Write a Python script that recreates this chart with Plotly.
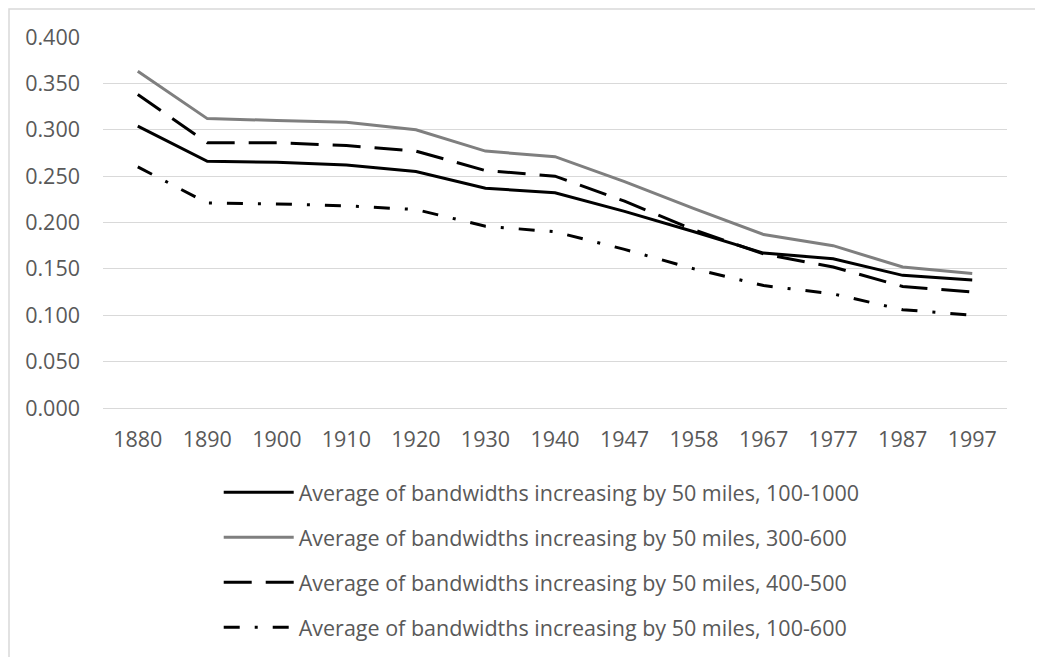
"""Average bandwidth estimates by census year."""

import plotly.graph_objects as go

YEARS = ["1880", "1890", "1900", "1910", "1920", "1930", "1940",
         "1947", "1958", "1967", "1977", "1987", "1997"]

BW_100_1000 = [0.304, 0.266, 0.265, 0.262, 0.255, 0.237, 0.232,
               0.212, 0.190, 0.167, 0.161, 0.143, 0.138]
BW_300_600 = [0.363, 0.312, 0.310, 0.308, 0.300, 0.277, 0.271,
              0.244, 0.215, 0.187, 0.175, 0.152, 0.145]
BW_400_500 = [0.338, 0.286, 0.286, 0.283, 0.277, 0.256, 0.250,
              0.223, 0.192, 0.166, 0.152, 0.131, 0.125]
BW_100_600 = [0.260, 0.221, 0.220, 0.218, 0.214, 0.196, 0.190,
              0.171, 0.150, 0.132, 0.123, 0.106, 0.100]

SERIES = [
    ("Average of bandwidths increasing by 50 miles, 100-1000", BW_100_1000, "#000000", "solid"),
    ("Average of bandwidths increasing by 50 miles, 300-600", BW_300_600, "#7f7f7f", "solid"),
    ("Average of bandwidths increasing by 50 miles, 400-500", BW_400_500, "#000000", "28px,14px"),
    ("Average of bandwidths increasing by 50 miles, 100-600", BW_100_600, "#000000", "16px,15px,3px,15px"),
]

FONT = "'Open Sans', sans-serif"
TEXT = "#595959"
GRID = "#d9d9d9"

fig = go.Figure()
for name, values, color, dash in SERIES:
    fig.add_trace(
        go.Scatter(
            x=YEARS,
            y=values,
            name=name,
            mode="lines",
            legendgroup=name,
            line={"color": color, "width": 3, "dash": dash},
        )
    )

# chart frame: the page margin puts the figure edge where the border sits
fig.add_shape(
    type="rect", xref="paper", yref="paper",
    x0=-94 / 904, x1=1.1, y0=-0.9, y1=1 + 28 / 371,
    line={"color": GRID, "width": 1.5}, layer="below",
)

fig.update_layout(
    width=1043,
    height=657,
    margin={"l": 95, "r": 44, "t": 29, "b": 257},
    paper_bgcolor="white",
    plot_bgcolor="white",
    font={"family": FONT, "color": TEXT, "size": 21.5},
    showlegend=True,
    legend={
        "orientation": "v",
        "x": 0.128,
        "xanchor": "left",
        "y": -0.172,
        "yanchor": "top",
        "itemwidth": 70,
        "tracegroupgap": 14,
        "font": {"family": FONT, "color": TEXT, "size": 21.5},
        "bgcolor": "rgba(0,0,0,0)",
    },
)
fig.update_xaxes(
    type="category",
    range=[-0.5, 12.5],
    showgrid=False,
    showline=False,
    ticks="",
    ticklabelstandoff=16,
    automargin=False,
)
fig.update_yaxes(
    range=[0, 0.4],
    dtick=0.05,
    tickformat=".3f",
    showgrid=True,
    gridcolor=GRID,
    gridwidth=1.3,
    zeroline=True,
    zerolinecolor=GRID,
    zerolinewidth=1.3,
    showline=False,
    ticks="",
    ticklabelstandoff=22,
    automargin=False,
)

fig.write_html("out.html")
